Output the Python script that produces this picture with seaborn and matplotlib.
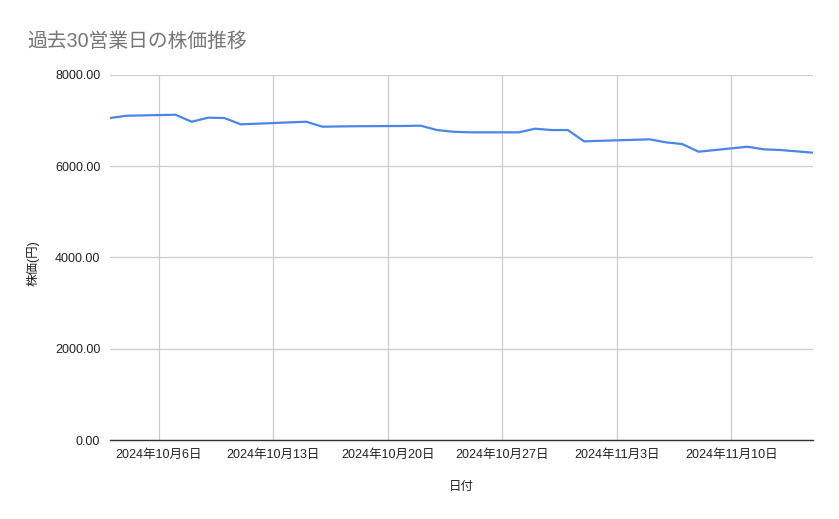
import matplotlib
matplotlib.use("Agg")
import matplotlib.pyplot as plt
import matplotlib.dates as mdates
import seaborn as sns
import pandas as pd

dates = ["2024-10-03", "2024-10-04", "2024-10-07", "2024-10-08", "2024-10-09",
         "2024-10-10", "2024-10-11", "2024-10-15", "2024-10-16", "2024-10-17",
         "2024-10-18", "2024-10-21", "2024-10-22", "2024-10-23", "2024-10-24",
         "2024-10-25", "2024-10-28", "2024-10-29", "2024-10-30", "2024-10-31",
         "2024-11-01", "2024-11-05", "2024-11-06", "2024-11-07", "2024-11-08",
         "2024-11-11", "2024-11-12", "2024-11-13", "2024-11-14", "2024-11-15"]
prices = [7052, 7102, 7124, 6971, 7059,
          7052, 6914, 6971, 6862, 6868,
          6872, 6878, 6885, 6789, 6752,
          6739, 6739, 6818, 6789, 6789,
          6542, 6586, 6520, 6483, 6315,
          6424, 6367, 6352, 6323, 6293]
tick_dates = ["2024-10-06", "2024-10-13", "2024-10-20", "2024-10-27", "2024-11-03", "2024-11-10"]
tick_labels = ["2024年10月6日", "2024年10月13日", "2024年10月20日",
               "2024年10月27日", "2024年11月3日", "2024年11月10日"]
y_ticks = [0, 2000, 4000, 6000, 8000]

title = "過去30営業日の株価推移"
x_label = "日付"
y_label = "株価(円)"

sns.set_theme(style="white")
fonts = ["Liberation Sans", "Noto Sans CJK JP", "DejaVu Sans"]
plt.rcParams["font.family"] = fonts

df = pd.DataFrame({"date": pd.to_datetime(dates), "price": prices})

W, H = 839, 519
fig = plt.figure(figsize=(W / 100, H / 100), dpi=100)
left, right, top, bottom = 110, 813, 74.7, 440.3
ax = fig.add_axes([left / W, 1 - bottom / H, (right - left) / W, (bottom - top) / H])

sns.lineplot(data=df, x="date", y="price", ax=ax, color="#4a86e8", linewidth=1.6, zorder=3)

ax.set_xlim(df["date"].min(), df["date"].max())
ax.set_ylim(0, 8000)
ax.set_yticks(y_ticks)
ax.set_yticklabels([f"{v:.2f}" for v in y_ticks])
ax.set_xticks(pd.to_datetime(tick_dates))
ax.set_xticklabels(tick_labels)

ax.grid(True, color="#cccccc", linewidth=0.9)
ax.set_axisbelow(True)
for s in ["top", "right", "left"]:
    ax.spines[s].set_visible(False)
ax.spines["bottom"].set_color("#333333")
ax.spines["bottom"].set_linewidth(1.0)
ax.spines["bottom"].set_zorder(4)

ax.tick_params(axis="both", length=0, labelsize=9, colors="#222222")
ax.tick_params(axis="x", pad=6)
ax.tick_params(axis="y", pad=7)

ax.set_xlabel(x_label, fontsize=9, color="#222222")
ax.set_ylabel(y_label, fontsize=9, color="#222222")
ax.xaxis.set_label_coords(0.5, -0.112)
ax.yaxis.set_label_coords(-0.100, 0.485)

fig.text(27 / W, 1 - 41 / H, title, fontsize=14.2, color="#757575", va="center", ha="left")

fig.savefig("out.png", dpi=100)
